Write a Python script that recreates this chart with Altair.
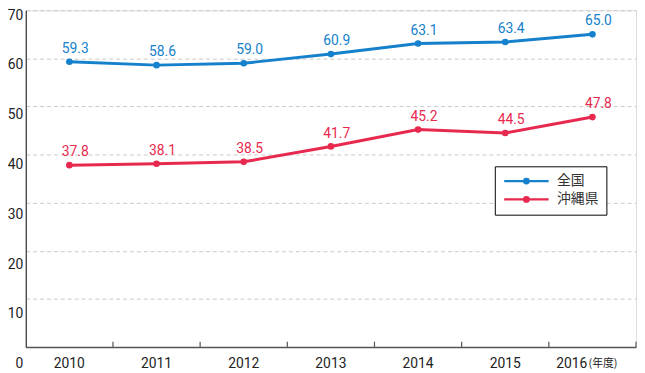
import altair as alt
import pandas as pd

years = ["2010", "2011", "2012", "2013", "2014", "2015", "2016"]
zenkoku = [59.3, 58.6, 59.0, 60.9, 63.1, 63.4, 65.0]
okinawa = [37.8, 38.1, 38.5, 41.7, 45.2, 44.5, 47.8]
series_names = ["全国", "沖縄県"]
series_colors = ["#1581cc", "#e8294f"]
y_label_values = [0, 10, 20, 30, 40, 50, 60, 70]
grid_values = [10, 20, 30, 40, 50, 60, 70]
unit_label = "(年度)"

df = pd.DataFrame({
    "year": years * 2,
    "value": zenkoku + okinawa,
    "series": [series_names[0]] * len(years) + [series_names[1]] * len(years),
})
df["label"] = df["value"].map(lambda v: f"{v:.1f}")
tick_df = pd.DataFrame({"year": years})
unit_df = pd.DataFrame({"year": [years[-1]], "t": [unit_label]})

color_scale = alt.Scale(domain=series_names, range=series_colors)
legend = alt.Legend(
    title=None, orient="none", legendX=475, legendY=158, direction="vertical",
    symbolType="M-5,0H5M0.5,0A0.5,0.5,0,1,1,-0.5,0A0.5,0.5,0,1,1,0.5,0Z",
    symbolSize=81, symbolStrokeWidth=2.5, symbolOffset=17, labelOffset=24,
    labelFont="Noto Sans CJK JP", labelFontSize=14, labelColor="#333",
    padding=8, rowPadding=2.5, strokeColor="black", fillColor="white",
    cornerRadius=0, symbolOpacity=1,
)
color_enc = alt.Color("series:N", scale=color_scale, legend=legend)

x_axis = alt.Axis(
    title=None, labelAngle=0, ticks=False, tickSize=0, domain=True,
    domainColor="#555", domainWidth=1.5, labelFont="Roboto", labelFontSize=14,
    labelColor="#222", labelPadding=10,
    labelOffset={"condition": {"test": "datum.value === '2016'", "value": -21}, "value": 0},
)
x_scale = alt.Scale(type="band", paddingInner=0, paddingOuter=0)
x_enc = alt.X("year:N", scale=x_scale, bandPosition=0.5, axis=x_axis, sort=years)

y_enc = alt.Y(
    "value:Q", scale=alt.Scale(domain=[0, 70], nice=False, zero=True),
    axis=alt.Axis(values=grid_values, labels=False, ticks=False, domain=True,
                  domainColor="#333", domainWidth=1.2, grid=True, gridDash=[4, 3],
                  gridColor="#c9c9c9", title=None),
)

base = alt.Chart(df)
line = base.mark_line(strokeWidth=3).encode(x=x_enc, y=y_enc, color=color_enc)
pts = base.mark_point(filled=True, size=45, opacity=1).encode(x=x_enc, y=y_enc, color=color_enc)
txt = base.mark_text(dx=6, dy=-13, baseline="middle", fontSize=14, font="Roboto").encode(
    x=x_enc, y=y_enc, color=color_enc, text="label:N")
ticks = alt.Chart(tick_df).mark_rule(color="#555", strokeWidth=1.2).encode(
    x=alt.X("year:N", scale=x_scale, bandPosition=1, sort=years),
    y=alt.YDatum(0, type="quantitative"),
    y2=alt.Y2Datum(1.1),
)
main = alt.layer(line, pts, txt, ticks)

unit = alt.Chart(unit_df).mark_text(
    align="left", dx=-4, baseline="middle", fontSize=11,
    font="Noto Sans CJK JP", color="#222",
).encode(
    x=alt.X("year:N", scale=x_scale, bandPosition=0.5, sort=years),
    y=alt.YDatum(0, type="quantitative",
                 scale=alt.Scale(domain=[0, 70], range=[358, 5], nice=False, zero=False),
                 axis=alt.Axis(orient="left", values=y_label_values, domain=False,
                               ticks=False, grid=False, labelPadding=3, labelFont="Roboto",
                               labelFontSize=14, labelColor="#222", labelFlush=False,
                               labelBaseline="middle", title=None)),
    text="t:N",
)

chart = alt.layer(main, unit).resolve_scale(y="independent").properties(
    width=618, height=341,
    autosize=alt.AutoSizeParams(type="none"),
    padding={"left": 18, "top": 0, "right": 1, "bottom": 24},
).configure_view(stroke=None).configure(background="white")

chart.save("out.html", embed_options={"renderer": "svg", "actions": False})
